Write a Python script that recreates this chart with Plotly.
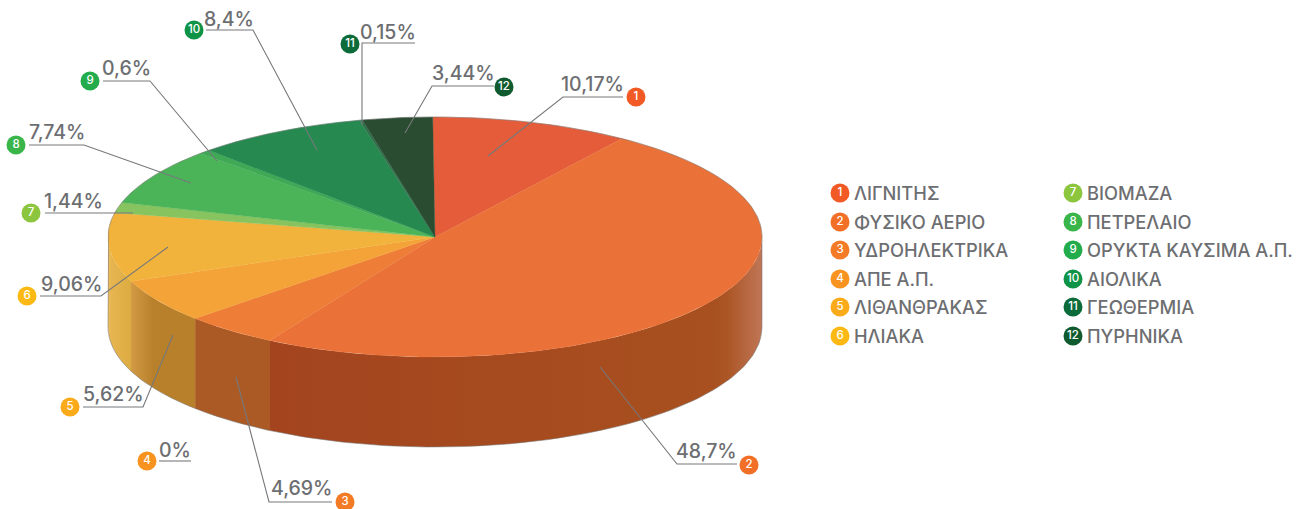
import numpy as np
import plotly.graph_objects as go

# ---------- data ----------
numbers = list(range(1, 13))
categories = ["ΛΙΓΝΙΤΗΣ", "ΦΥΣΙΚΟ ΑΕΡΙΟ", "ΥΔΡΟΗΛΕΚΤΡΙΚΑ", "ΑΠΕ Α.Π.", "ΛΙΘΑΝΘΡΑΚΑΣ", "ΗΛΙΑΚΑ",
              "ΒΙΟΜΑΖΑ", "ΠΕΤΡΕΛΑΙΟ", "ΟΡΥΚΤΑ ΚΑΥΣΙΜΑ Α.Π.", "ΑΙΟΛΙΚΑ", "ΓΕΩΘΕΡΜΙΑ", "ΠΥΡΗΝΙΚΑ"]
values = [10.17, 48.7, 4.69, 0, 5.62, 9.06, 1.44, 7.74, 0.6, 8.4, 0.15, 3.44]
value_labels = ["10,17%", "48,7%", "4,69%", "0%", "5,62%", "9,06%",
                "1,44%", "7,74%", "0,6%", "8,4%", "0,15%", "3,44%"]

# ---------- styles ----------
badge_colors = ["#f15a24", "#f26f27", "#f47b25", "#f7931e", "#fbaa19", "#fdb913",
                "#8cc63f", "#39b54a", "#22ac4b", "#0f9347", "#0b6b3a", "#0f5a2e"]
top_colors = ["#e45c3a", "#ea7239", "#ee7d38", "#f4a338", "#f4a338", "#f2b33c",
              "#87c35e", "#4cb458", "#3fa956", "#268a50", "#2f6f4a", "#2a4d32"]
wall_scales = {
    1: [[0, "#a3441f"], [0.9, "#a8501f"], [0.93, "#ac5626"], [1, "#bf7656"]],
    2: [[0, "#ab5a25"], [1, "#ab5a25"]],
    4: [[0, "#d29a45"], [0.35, "#b8802b"], [1, "#b8802b"]],
    5: [[0, "#ecbd62"], [0.15, "#e6b550"], [1, "#dcab40"]],
}
GREY = "#6d6e71"
FONT = "Inter"
CX, CY, RX, RY, DEPTH = 435, 237, 327, 120, 90
# the reference is drawn in slight perspective, which shifts slice edges by a degree or so
WARP_AT = [0, 35, 230, 250, 282, 315, 360]
WARP_BY = [-0.4, -1.7, -1.6, -0.6, 0, -0.6, -0.4]

# label layout, per slice: text centre, badge centre, leader path
label_pos = [(592, 84), (706, 451), (301, 488), (175, 450), (113, 394), (71, 284),
             (73, 201), (57, 132), (126, 68), (229, 19), (388, 32), (463, 73)]
badge_pos = [(636, 97), (749, 465), (345, 502), (147, 461), (70, 407), (27, 296),
             (31, 213), (16, 145), (90, 81), (194, 30), (350, 44), (504, 87)]
leaders = [
    [(623, 97), (563, 97), (488, 156)],
    [(737, 464), (677, 464), (600, 367)],
    [(332, 502), (269, 502), (236, 377)],
    [(159, 461), (191, 461)],
    [(83, 407), (143, 407), (173, 335)],
    [(40, 296), (101, 296), (168, 247)],
    [(45, 213), (133, 213)],
    [(29, 145), (84, 145), (191, 183)],
    [(103, 81), (150, 81), (217, 161)],
    [(206, 30), (253, 30), (317, 150)],
    [(415, 43), (362, 43), (362, 125)],
    [(494, 86), (432, 86), (405, 133)],
]
legend_x = [(840, 852), (1073, 1085)]
legend_y = [193, 222, 250, 279, 307, 336]


def ell(a, dy=0.0):
    a = np.radians(a)
    return CX + RX * np.sin(a), CY - RY * np.cos(a) + dy


fig = go.Figure()
edges = np.concatenate([[0], np.cumsum(values) / sum(values) * 360])
edges = edges + np.interp(edges, WARP_AT, WARP_BY)
edges[-1] = edges[0] + 360

# side walls (only the front half, 90..270 degrees, is visible)
for i, v in enumerate(values):
    a0, a1 = max(edges[i], 90), min(edges[i + 1], 270)
    if v == 0 or a1 <= a0:
        continue
    t = np.linspace(a0, a1, 80)
    xt, yt = ell(t)
    xb, yb = ell(t[::-1], DEPTH)
    fig.add_trace(go.Scatter(
        x=np.r_[xt, xb], y=np.r_[yt, yb], mode="lines", line=dict(width=0), fill="toself",
        fillgradient=dict(type="horizontal", colorscale=wall_scales[i]),
        hoverinfo="skip", showlegend=False))

# top surface
for i, v in enumerate(values):
    if v == 0:
        continue
    t = np.linspace(edges[i], edges[i + 1], max(6, int(v * 6)))
    xt, yt = ell(t)
    fig.add_trace(go.Scatter(
        x=np.r_[CX, xt, CX], y=np.r_[CY, yt, CY], mode="lines", line=dict(width=0.3, color=top_colors[i]),
        fill="toself", fillcolor=top_colors[i], hoverinfo="skip", showlegend=False))

# soft rim
t = np.linspace(-90, 90, 200)
xa, ya = ell(t)
t2 = np.linspace(90, 270, 200)
xb, yb = ell(t2, DEPTH)
fig.add_trace(go.Scatter(
    x=np.r_[ell(-90, DEPTH)[0], xa, xb], y=np.r_[ell(-90, DEPTH)[1], ya, yb], mode="lines",
    line=dict(width=1, color="rgba(120,120,120,0.55)"), hoverinfo="skip", showlegend=False))

# leaders
for path in leaders:
    fig.add_trace(go.Scatter(x=[p[0] for p in path], y=[p[1] for p in path], mode="lines",
                             line=dict(width=1.1, color="#77787b"), hoverinfo="skip", showlegend=False))

# badges beside the pie and in the key
key_x = [legend_x[i // 6][0] for i in range(12)]
key_y = [legend_y[i % 6] for i in range(12)]
for xs, ys in [([p[0] for p in badge_pos], [p[1] for p in badge_pos]), (key_x, key_y)]:
    fig.add_trace(go.Scatter(
        x=xs, y=ys, mode="markers+text", text=[str(n) for n in numbers],
        textposition="middle center", textfont=dict(family=FONT, size=11.5, color="white", weight=500),
        marker=dict(size=19, color=badge_colors, line=dict(width=0)),
        hoverinfo="skip", showlegend=False))

ann = []
for (x, y), s in zip(label_pos, value_labels):
    ann.append(dict(x=x, y=y, text=s, xref="x", yref="y", showarrow=False, xanchor="center", yanchor="middle",
                    font=dict(family=FONT, size=19.5, color=GREY, weight=500)))
for i, c in enumerate(categories):
    ann.append(dict(x=legend_x[i // 6][1], y=legend_y[i % 6], text=c, xref="x", yref="y", showarrow=False,
                    xanchor="left", yanchor="middle", font=dict(family=FONT, size=18.3, color=GREY, weight=500)))

fig.update_layout(
    width=1300, height=509, margin=dict(l=0, r=0, t=0, b=0), paper_bgcolor="white", plot_bgcolor="white",
    xaxis=dict(range=[0, 1300], visible=False, fixedrange=True),
    yaxis=dict(range=[509, 0], visible=False, fixedrange=True),
    annotations=ann, showlegend=False)

fig.write_html("out.html", config=dict(displayModeBar=False),
               post_script="document.body.style.margin='0';document.body.style.overflow='hidden';")
